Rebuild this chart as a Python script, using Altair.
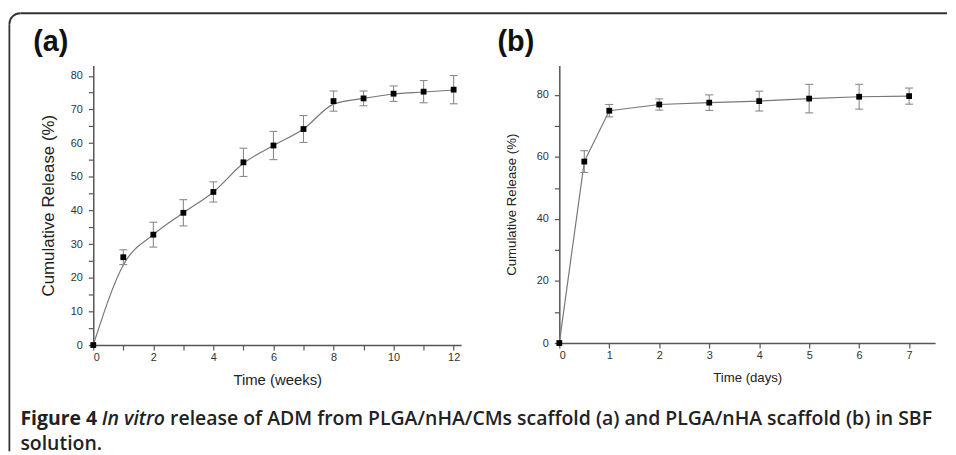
import altair as alt
import pandas as pd

# ---- data ----
a_weeks = [0, 1, 2, 3, 4, 5, 6, 7, 8, 9, 10, 11, 12]
a_release = [0, 26.1, 32.8, 39.3, 45.5, 54.3, 59.3, 64.2, 72.5, 73.3, 74.7, 75.3, 75.9]
a_sd = [0, 2.2, 3.7, 3.9, 3.0, 4.2, 4.2, 4.0, 3.0, 2.2, 2.3, 3.3, 4.2]
a_fit = [0, 23.8, 32.8, 39.3, 45.5, 54.0, 59.3, 64.2, 71.6, 73.3, 74.6, 75.2, 75.8]

b_days = [0, 0.5, 1, 2, 3, 4, 5, 6, 7]
b_release = [0, 58.5, 74.9, 76.9, 77.5, 78.0, 78.8, 79.4, 79.6]
b_sd = [0, 3.5, 2.0, 1.8, 2.5, 3.2, 4.6, 4.0, 2.6]

a_xticks = list(range(0, 13))
a_yticks = list(range(0, 81, 5))
b_xticks = list(range(0, 8))
b_yticks = list(range(0, 81, 10))

caption_bold = "Figure 4"
caption_italic = "In vitro"
caption_rest = "release of ADM from PLGA/nHA/CMs scaffold (a) and PLGA/nHA scaffold (b) in SBF"
caption_line2 = "solution."

# ---- tables ----
dfa = pd.DataFrame({"t": a_weeks, "m": a_release, "sd": a_sd})
dfa["lo"] = dfa["m"] - dfa["sd"]
dfa["hi"] = dfa["m"] + dfa["sd"]
dfa_err = dfa[dfa["sd"] > 0]
dfa_fit = pd.DataFrame({"t": a_weeks, "f": a_fit})

dfb = pd.DataFrame({"t": b_days, "m": b_release, "sd": b_sd})
dfb["lo"] = dfb["m"] - dfb["sd"]
dfb["hi"] = dfb["m"] + dfb["sd"]
dfb_err = dfb[dfb["sd"] > 0]

one = pd.DataFrame({"k": [0]})

LINE = "#777777"
ERR = "#8a8a8a"
FONT = "Liberation Sans"
CAPFONT = "Open Sans"
CAPSIZE = 19.6

# ---- panel A ----
xa = alt.Scale(domain=[0, 12.25], nice=False, zero=False)
ya = alt.Scale(domain=[0, 83.1], nice=False)
ax_ax = alt.Axis(values=a_xticks, labelExpr="datum.value % 2 == 0 ? datum.label : ''",
                 title="Time (weeks)", titleFontSize=15, titlePadding=10, labelPadding=2,
                 labelOverlap=False)
ax_ay = alt.Axis(values=a_yticks, labelExpr="datum.value % 10 == 0 ? datum.label : ''",
                 title="Cumulative Release (%)", titleFontSize=17, titlePadding=13,
                 labelPadding=6, labelOverlap=False)

XA = alt.X("t:Q", scale=xa, axis=ax_ax)

def YA(f):
    return alt.Y(f, scale=ya, axis=ax_ay)

a_fit_line = alt.Chart(dfa_fit).mark_line(interpolate="monotone", color=LINE, strokeWidth=1.2).encode(
    x=XA, y=YA("f:Q"))
a_err = alt.Chart(dfa_err).mark_rule(color=ERR, strokeWidth=1.1).encode(x=XA, y=YA("lo:Q"), y2="hi:Q")
a_cap_lo = alt.Chart(dfa_err).mark_rule(color=ERR, strokeWidth=1.1, xOffset=-4, x2Offset=4).encode(
    x=XA, x2="t:Q", y=YA("lo:Q"))
a_cap_hi = alt.Chart(dfa_err).mark_rule(color=ERR, strokeWidth=1.1, xOffset=-4, x2Offset=4).encode(
    x=XA, x2="t:Q", y=YA("hi:Q"))
a_pts = alt.Chart(dfa).mark_square(size=34, color="black", opacity=1).encode(x=XA, y=YA("m:Q"))

# decorations (pixel positions relative to panel A plot origin)
BL, BT, R = -84.6, -52.6, 11
BORDER = "#333333"
b_top = alt.Chart(one).mark_rule(color=BORDER, strokeWidth=1.8).encode(
    x=alt.value(BL + R), x2=alt.value(861), y=alt.value(BT))
b_left = alt.Chart(one).mark_rule(color=BORDER, strokeWidth=1.8).encode(
    x=alt.value(BL), y=alt.value(BT + R), y2=alt.value(389))
b_arc = alt.Chart(one).mark_arc(color=BORDER, theta=4.7124, theta2=6.2832,
                                radius=R + 0.9, radius2=R - 0.9).encode(
    x=alt.value(BL + R), y=alt.value(BT + R))

lab_a = alt.Chart(one).mark_text(font=FONT, fontSize=29, fontWeight="bold", align="left",
                                 baseline="alphabetic", color="#111").encode(
    x=alt.value(-60.5), y=alt.value(-15), text=alt.value("(a)"))

OX, OY = 93.5, 63.5
cap1 = alt.Chart(one).mark_text(font=CAPFONT, fontSize=CAPSIZE, fontWeight="bold", align="left",
                                baseline="alphabetic", color="#222").encode(
    x=alt.value(20 - OX), y=alt.value(426 - OY), text=alt.value(caption_bold))
cap2 = alt.Chart(one).mark_text(font=CAPFONT, fontSize=CAPSIZE, fontStyle="italic", fontWeight=600,
                                align="left", baseline="alphabetic", color="#222").encode(
    x=alt.value(102 - OX), y=alt.value(426 - OY), text=alt.value(caption_italic))
cap3 = alt.Chart(one).mark_text(font=CAPFONT, fontSize=CAPSIZE, fontWeight=600, align="left",
                                baseline="alphabetic", color="#222").encode(
    x=alt.value(171 - OX), y=alt.value(426 - OY), text=alt.value(caption_rest))
cap4 = alt.Chart(one).mark_text(font=CAPFONT, fontSize=CAPSIZE, fontWeight=600, align="left",
                                baseline="alphabetic", color="#222").encode(
    x=alt.value(20 - OX), y=alt.value(451 - OY), text=alt.value(caption_line2))

panel_a = alt.layer(a_fit_line, a_err, a_cap_lo, a_cap_hi, a_pts,
                    b_top, b_left, b_arc, lab_a, cap1, cap2, cap3, cap4).properties(width=371, height=282)

# ---- panel B ----
xb = alt.Scale(domain=[0, 7.52], nice=False, zero=False)
yb = alt.Scale(domain=[0, 89.5], nice=False)
ax_bx = alt.Axis(values=b_xticks, title="Time (days)", titleFontSize=13.3, titlePadding=10,
                 labelPadding=2, labelOverlap=False)
ax_by = alt.Axis(values=b_yticks, labelExpr="datum.value % 20 == 0 ? datum.label : ''",
                 title="Cumulative Release (%)", titleFontSize=13.3, titlePadding=18,
                 labelPadding=6, labelOverlap=False)

XB = alt.X("t:Q", scale=xb, axis=ax_bx)

def YB(f):
    return alt.Y(f, scale=yb, axis=ax_by)

b_line = alt.Chart(dfb).mark_line(color=LINE, strokeWidth=1.2).encode(x=XB, y=YB("m:Q"))
b_err = alt.Chart(dfb_err).mark_rule(color=ERR, strokeWidth=1.1).encode(x=XB, y=YB("lo:Q"), y2="hi:Q")
b_cap_lo = alt.Chart(dfb_err).mark_rule(color=ERR, strokeWidth=1.1, xOffset=-4, x2Offset=4).encode(
    x=XB, x2="t:Q", y=YB("lo:Q"))
b_cap_hi = alt.Chart(dfb_err).mark_rule(color=ERR, strokeWidth=1.1, xOffset=-4, x2Offset=4).encode(
    x=XB, x2="t:Q", y=YB("hi:Q"))
b_pts = alt.Chart(dfb).mark_square(size=34, color="black", opacity=1).encode(x=XB, y=YB("m:Q"))

lab_b = alt.Chart(one).mark_text(font=FONT, fontSize=29, fontWeight="bold", align="left",
                                 baseline="alphabetic", color="#111").encode(
    x=alt.value(501 - 563.3), y=alt.value(50 - 64.5), text=alt.value("(b)"))

panel_b = alt.layer(b_line, b_err, b_cap_lo, b_cap_hi, b_pts, lab_b).properties(width=379, height=280)

chart = alt.hconcat(panel_a, panel_b, spacing=99, bounds="flush").properties(
    padding={"left": 0, "top": 2, "right": 0, "bottom": 0}
).configure_view(stroke=None).configure_axis(
    grid=False, domainColor="#555555", domainWidth=1.5, tickColor="#555555", tickWidth=1.2,
    tickSize=5, labelColor="#333333", labelFont=FONT, labelFontSize=11, titleFont=FONT,
    titleFontWeight="normal", titleColor="#222222"
)

chart.save("out.html", embed_options={"renderer": "svg", "actions": False})
